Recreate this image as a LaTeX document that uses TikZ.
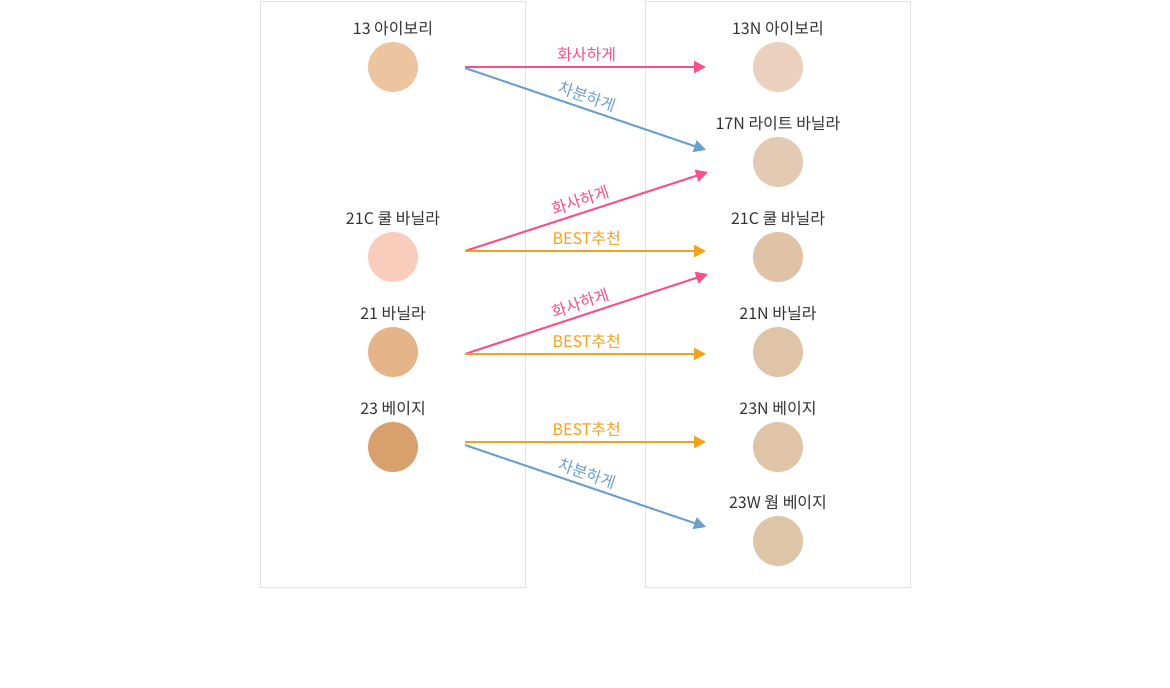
\documentclass[tikz,border=0pt]{standalone}
\usepackage{fontspec}
\setmainfont{Noto Sans CJK KR}
\usetikzlibrary{arrows.meta}
\definecolor{boxline}{HTML}{E2E2E2}
\definecolor{txt}{HTML}{333333}
\definecolor{pinkc}{HTML}{F94F8A}
\definecolor{bluec}{HTML}{6A9FD0}
\definecolor{orangec}{HTML}{F3A21C}
\definecolor{cA}{HTML}{ECC5A0}
\definecolor{cB}{HTML}{F9CCBC}
\definecolor{cC}{HTML}{E5B489}
\definecolor{cD}{HTML}{D8A06D}
\definecolor{rA}{HTML}{EBD1BD}
\definecolor{rB}{HTML}{E4CAB2}
\definecolor{rC}{HTML}{E0C2A7}
\definecolor{rD}{HTML}{DFC4A8}
\definecolor{rE}{HTML}{DFC4A8}
\definecolor{rF}{HTML}{DFC5A8}
\tikzset{
  panel/.style={draw=boxline, line width=1pt},
  swatch/.style={circle, minimum size=50pt, inner sep=0pt, draw=none},
  lbl/.style={text=txt, font=\fontsize{16}{19}\selectfont, inner sep=0pt},
  conn/.style={line width=2pt, -{Triangle[length=12pt,width=12pt]}},
  clbl/.style={font=\fontsize{16}{19}\selectfont, inner sep=4pt, pos=0.49, above, sloped},
  hlbl/.style={clbl, pos=0.505},
}
\begin{document}
\begin{tikzpicture}[x=1pt,y=-1pt]
\path[use as bounding box, fill=white] (0,0) rectangle (1170,688);
\node[panel, minimum width=265pt, minimum height=586pt, inner sep=0pt] (lp) at (393,294.5) {};
\node[panel, minimum width=265pt, minimum height=586pt, inner sep=0pt] (rp) at (778,294.5) {};
% left swatches
\node[swatch, fill=cA] (l13) at (393,67) {};
\node[swatch, fill=cB] (l21c) at (393,257) {};
\node[swatch, fill=cC] (l21) at (393,352) {};
\node[swatch, fill=cD] (l23) at (393,447) {};
\node[lbl] (tl13) at (393,29) {13 아이보리};
\node[lbl] (tl21c) at (393,219) {21C 쿨 바닐라};
\node[lbl] (tl21) at (393,314) {21 바닐라};
\node[lbl] (tl23) at (393,409) {23 베이지};
% right swatches
\node[swatch, fill=rA] (r13n) at (778,67) {};
\node[swatch, fill=rB] (r17n) at (778,162) {};
\node[swatch, fill=rC] (r21c) at (778,257) {};
\node[swatch, fill=rD] (r21n) at (778,352) {};
\node[swatch, fill=rE] (r23n) at (778,447) {};
\node[swatch, fill=rF] (r23w) at (778,541) {};
\node[lbl] (tr13n) at (778,29) {13N 아이보리};
\node[lbl] (tr17n) at (778,124) {17N 라이트 바닐라};
\node[lbl] (tr21c) at (778,219) {21C 쿨 바닐라};
\node[lbl] (tr21n) at (778,314) {21N 바닐라};
\node[lbl] (tr23n) at (778,409) {23N 베이지};
\node[lbl] (tr23w) at (778,503) {23W 웜 베이지};
% connector anchors
\coordinate (s13a) at (465,67);
\coordinate (s13b) at (465,68);
\coordinate (s21c) at (465,251);
\coordinate (s21) at (465,354);
\coordinate (s23a) at (465,442);
\coordinate (s23b) at (465,445);
\coordinate (e13n) at (706,67);
\coordinate (e17na) at (706,150);
\coordinate (e17nb) at (708,172);
\coordinate (e21c) at (706,251);
\coordinate (e21ca) at (708,274);
\coordinate (e21n) at (706,354);
\coordinate (e23n) at (706,442);
\coordinate (e23w) at (706,527);
% connectors
\draw[conn, pinkc] (s13a) -- node[hlbl]{화사하게} (e13n);
\draw[conn, bluec] (s13b) -- node[clbl]{차분하게} (e17na);
\draw[conn, pinkc] (s21c) -- node[clbl]{화사하게} (e17nb);
\draw[conn, orangec] (s21c) -- node[hlbl]{BEST추천} (e21c);
\draw[conn, pinkc] (s21) -- node[clbl]{화사하게} (e21ca);
\draw[conn, orangec] (s21) -- node[hlbl]{BEST추천} (e21n);
\draw[conn, orangec] (s23a) -- node[hlbl]{BEST추천} (e23n);
\draw[conn, bluec] (s23b) -- node[clbl]{차분하게} (e23w);
\end{tikzpicture}
\end{document}
